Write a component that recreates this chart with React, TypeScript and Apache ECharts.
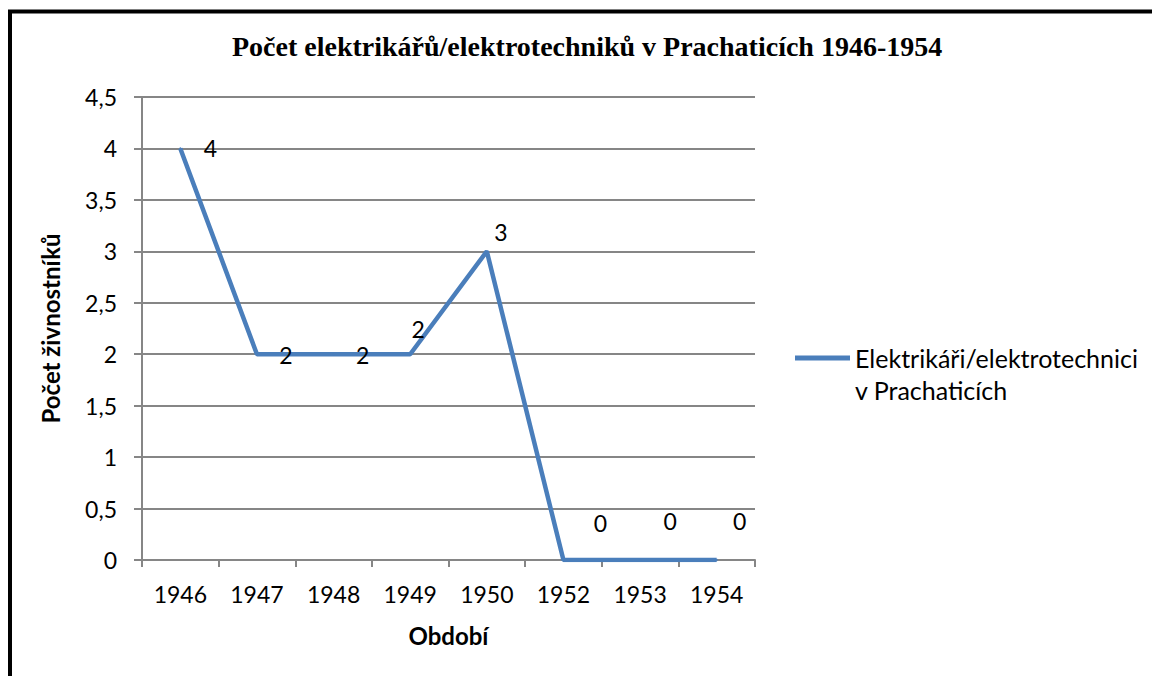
import React, { useEffect, useRef } from "react";
import * as echarts from "echarts";

const categories = ["1946", "1947", "1948", "1949", "1950", "1952", "1953", "1954"];
const values = [4, 2, 2, 2, 3, 0, 0, 0];
const seriesName = "Elektrikáři/elektrotechnici v Prachaticích";
const legendLines = ["Elektrikáři/elektrotechnici", "v Prachaticích"];
const titleText = "Počet elektrikářů/elektrotechniků v Prachaticích 1946-1954";
const xAxisName = "Období";
const yAxisName = "Počet živnostníků";
const yMin = 0;
const yMax = 4.5;
const yStep = 0.5;

export default function App() {
  const ref = useRef<HTMLDivElement>(null);
  useEffect(() => {
    if (!ref.current) return;
    const chart = echarts.init(ref.current, null, { renderer: "svg" });
    const font = "Lato";
    const labelOffsets: [number, number][] = [
      [30, 0],
      [29, 1],
      [29, 1],
      [8, -25],
      [14, -19],
      [37, -37],
      [30, -39],
      [23, -39],
    ];
    const option: any = {
      animation: false,
      backgroundColor: "#ffffff",
      title: {
        text: titleText,
        left: 232,
        top: 32,
        padding: 0,
        textStyle: {
          fontFamily: "Liberation Serif",
          fontWeight: "bold",
          fontSize: 28,
          color: "#000",
        },
      },
      graphic: [
        {
          type: "rect",
          shape: { x: 10, y: 11.5, width: 1300, height: 900 },
          style: { fill: "none", stroke: "#000", lineWidth: 4 },
          silent: true,
        },
      ],
      legend: {
        show: true,
        left: 790,
        top: 305,
        icon: "rect",
        itemWidth: 55,
        itemHeight: 5,
        formatter: () => " \n" + legendLines.join("\n"),
        textStyle: {
          fontFamily: font,
          fontSize: 25,
          color: "#000",
          lineHeight: 32,
        },
        selectedMode: false,
      },
      grid: { left: 142, top: 97, width: 613, height: 463, containLabel: false },
      xAxis: {
        type: "category",
        data: categories,
        boundaryGap: true,
        name: xAxisName,
        nameLocation: "middle",
        nameGap: 63,
        nameTextStyle: { fontFamily: font, fontWeight: "bold", fontSize: 24, color: "#000" },
        axisLine: { show: true, lineStyle: { color: "#868686", width: 2 } },
        axisTick: { show: true, length: 7, lineStyle: { color: "#868686", width: 2 } },
        axisLabel: { fontFamily: font, fontSize: 23, color: "#000", margin: 22 },
        splitLine: { show: false },
      },
      yAxis: {
        type: "value",
        min: yMin,
        max: yMax,
        interval: yStep,
        name: yAxisName,
        nameLocation: "middle",
        nameGap: 80,
        nameRotate: 90,
        nameTextStyle: { fontFamily: font, fontWeight: "bold", fontSize: 24, color: "#000" },
        axisLine: { show: true, lineStyle: { color: "#868686", width: 2 } },
        axisTick: { show: true, length: 8, lineStyle: { color: "#868686", width: 2 } },
        axisLabel: {
          fontFamily: font,
          fontSize: 23,
          color: "#000",
          margin: 25,
          formatter: (v: number) => String(v).replace(".", ","),
        },
        splitLine: { show: true, lineStyle: { color: "#868686", width: 2 } },
      },
      series: [
        {
          name: seriesName,
          type: "line",
          data: values.map((v, i) => ({ value: v, label: { offset: labelOffsets[i] } })),
          symbol: "circle",
          symbolSize: 2,
          showSymbol: true,
          itemStyle: { color: "#4A7EBB" },
          lineStyle: { color: "#4A7EBB", width: 4.5 },
          label: {
            show: true,
            position: "inside",
            fontFamily: font,
            fontSize: 23,
            color: "#000",
          },
          emphasis: { disabled: true },
        },
      ],
    };
    chart.setOption(option);
    return () => chart.dispose();
  }, []);
  return (
    <div
      ref={ref}
      style={{ position: "absolute", left: 0, top: 0, width: 1152, height: 676 }}
    />
  );
}
